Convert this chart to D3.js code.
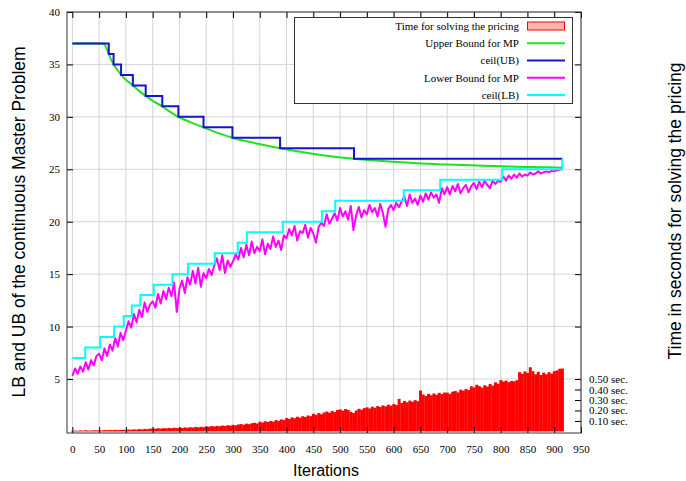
<!DOCTYPE html>
<html>
<head>
<meta charset="utf-8">
<script src="https://cdn.jsdelivr.net/npm/d3@7"></script>
<style>
  body { margin: 0; background: #fff; }
  svg { display: block; }
  .tick text { font-family: "Liberation Serif", "Times New Roman", serif; font-size: 11px; fill: #000; }
  .title { font-family: "Liberation Sans", Arial, Helvetica, sans-serif; font-size: 16px; fill: #000; }
  .title.vertical { font-size: 17.5px; }
  .legend text { font-family: "Liberation Serif", "Times New Roman", serif; font-size: 11px; fill: #000; }
</style>
</head>
<body>
<svg id="chart" width="686" height="481"></svg>
<script>
// sampled every 5th iteration
var iterations = d3.range(0, 920, 5);

// time for solving the pricing (seconds)
var timeSec = [
  0.005, 0.008, 0.006, 0.010, 0.007, 0.012, 0.008, 0.009, 0.011, 0.010,
  0.012, 0.010, 0.013, 0.011, 0.014, 0.012, 0.015, 0.013, 0.014, 0.016,
  0.015, 0.018, 0.016, 0.020, 0.017, 0.022, 0.019, 0.024, 0.021, 0.026,
  0.028, 0.025, 0.030, 0.027, 0.031, 0.029, 0.033, 0.030, 0.035, 0.032,
  0.036, 0.033, 0.038, 0.035, 0.040, 0.037, 0.042, 0.039, 0.044, 0.041,
  0.048, 0.045, 0.051, 0.047, 0.053, 0.050, 0.056, 0.052, 0.059, 0.055,
  0.063, 0.058, 0.066, 0.070, 0.064, 0.074, 0.069, 0.078, 0.082, 0.076,
  0.092, 0.085, 0.097, 0.091, 0.100, 0.094, 0.108, 0.101, 0.115, 0.109,
  0.128, 0.119, 0.134, 0.126, 0.140, 0.131, 0.145, 0.138, 0.152, 0.146,
  0.168, 0.158, 0.175, 0.164, 0.181, 0.190, 0.178, 0.196, 0.186, 0.205,
  0.210, 0.198, 0.214, 0.205, 0.185, 0.176, 0.200, 0.216, 0.207, 0.222,
  0.230, 0.219, 0.236, 0.226, 0.242, 0.233, 0.248, 0.239, 0.255, 0.246,
  0.262, 0.252, 0.310, 0.271, 0.290, 0.278, 0.294, 0.283, 0.298, 0.288,
  0.390, 0.352, 0.338, 0.359, 0.345, 0.362, 0.350, 0.368, 0.356, 0.371,
  0.370, 0.358, 0.379, 0.385, 0.372, 0.398, 0.389, 0.405, 0.394, 0.430,
  0.420, 0.445, 0.432, 0.418, 0.440, 0.428, 0.452, 0.437, 0.468, 0.455,
  0.490, 0.476, 0.485, 0.470, 0.482, 0.478, 0.488, 0.565, 0.550, 0.572,
  0.558, 0.612, 0.575, 0.545, 0.568, 0.538, 0.560, 0.545, 0.565, 0.552,
  0.575, 0.582, 0.598, 0.600
];

// lower bound for MP
var lowerBound = [
  5.3, 6.0, 5.5, 6.2, 5.7, 6.6, 5.9, 6.8, 6.3, 7.2,
  7.4, 6.8, 7.9, 7.2, 8.3, 7.7, 8.9, 8.1, 9.4, 8.7,
  9.6, 10.5, 9.9, 11.2, 10.4, 11.6, 10.9, 12.3, 11.4, 12.1,
  12.4, 11.8, 13.1, 12.2, 13.4, 12.6, 13.7, 12.9, 14.2, 11.4,
  13.6, 14.4, 13.2, 14.7, 14.0, 15.3, 14.1, 15.6, 13.8, 15.1,
  14.6, 15.5, 14.9, 15.8, 16.5, 15.4, 16.8, 15.1, 16.3, 15.7,
  16.2, 16.9, 16.4, 17.5, 16.6, 17.8, 16.8, 18.1, 17.0, 17.6,
  17.2, 18.3, 16.9, 17.9, 17.4, 18.6, 17.6, 18.2, 17.3, 18.7,
  18.4, 19.3, 18.7, 19.6, 18.2, 19.1, 18.9, 19.7, 18.5, 19.4,
  18.9, 18.0, 19.5, 19.9, 19.6, 20.7, 19.8, 20.3, 20.8, 20.1,
  21.3, 20.5, 21.0, 20.2, 21.5, 19.2, 20.6, 21.4, 20.4, 21.1,
  20.7, 21.6, 20.9, 21.3, 20.5, 21.7, 20.8, 19.5, 21.2, 21.6,
  21.1, 21.8, 21.4, 21.9, 22.4, 21.5, 22.6, 21.8, 22.2, 21.6,
  22.5, 21.9, 22.7, 22.1, 22.8, 22.3, 22.6, 21.8, 23.2, 22.6,
  23.3, 22.6, 23.4, 22.9, 23.6, 22.7, 23.2, 23.5, 22.8, 23.4,
  23.7, 23.1, 23.8, 23.3, 23.9, 23.5, 23.2, 23.9, 23.6, 23.9,
  23.8, 24.3, 23.9, 24.4, 24.1, 24.5, 24.2, 24.6, 24.3, 24.5,
  24.4, 24.7, 24.5, 24.6, 24.8, 24.6, 24.7, 24.8, 24.7, 24.85,
  24.8, 24.9, 24.95, 25.05
];

// upper bound for MP: [iteration, value]
var upperBound = [
  [0, 37], [55, 37], [60, 36.9], [64, 36.5], [68, 36], [72, 35.5], [77, 35],
  [84, 34.5], [91, 34], [101, 33.5], [113, 33], [124, 32.5], [137, 32],
  [151, 31.5], [168, 31], [182, 30.5], [198, 30], [220, 29.5], [245, 29],
  [270, 28.5], [299, 28], [340, 27.5], [388, 27], [457, 26.42], [526, 26],
  [580, 25.78], [643, 25.57], [700, 25.45], [768, 25.34], [830, 25.25],
  [892, 25.19], [915, 25.15]
];

// step changes: [iteration, level]
var ceilUB = [
  [0, 37], [68, 36], [77, 35], [91, 34], [113, 33], [137, 32], [168, 31],
  [198, 30], [245, 29], [299, 28], [388, 27], [526, 26], [915, 26]
];
var ceilLB = [
  [0, 7], [24, 8], [52, 9], [78, 10], [96, 11], [111, 12], [127, 13],
  [152, 14], [187, 15], [216, 16], [266, 17], [309, 18], [326, 19],
  [393, 20], [466, 21], [491, 22], [619, 23], [687, 24], [803, 25], [915, 26]
];

var xTicks = d3.range(0, 1000, 50);
var yTicks = [5, 10, 15, 20, 25, 30, 35, 40];
var timeTicks = [0.1, 0.2, 0.3, 0.4, 0.5];

var legendLabels = ["Time for solving the pricing", "Upper Bound for MP", "ceil(UB)", "Lower Bound for MP", "ceil(LB)"];
var legendColors = ["#ff0000", "#22e022", "#1414d2", "#ff00ff", "#00ffff"];

// plot frame (note: "top" is reserved on window, so prefix everything)
var plotLeft = 67, plotRight = 581, plotTop = 12, plotBottom = 433;

var svg = d3.select("#chart");

var x = d3.scaleLinear().domain([-10, 950]).range([plotLeft, plotRight]);
var y = d3.scaleLinear().domain([-0.15, 40]).range([plotBottom, plotTop]);
var y2 = d3.scaleLinear().domain([-0.015, 4.0]).range([plotBottom, plotTop]);

// grid
var grid = svg.append("g").attr("stroke", "#d4d4d4").attr("stroke-width", 1);
grid.selectAll("line.gx").data(xTicks).enter().append("line")
  .attr("x1", function(d) { return x(d); }).attr("x2", function(d) { return x(d); })
  .attr("y1", plotTop).attr("y2", plotBottom);
grid.selectAll("line.gy").data(yTicks).enter().append("line")
  .attr("x1", plotLeft).attr("x2", plotRight)
  .attr("y1", function(d) { return y(d); }).attr("y2", function(d) { return y(d); });

// time bars
svg.append("g").selectAll("rect").data(timeSec).enter().append("rect")
  .attr("x", function(d, i) { return x(iterations[i] - 2.5); })
  .attr("width", function(d, i) { return x(iterations[i] + 2.5) - x(iterations[i] - 2.5) + 0.3; })
  .attr("y", function(d) { return y2(d); })
  .attr("height", function(d) { return y2(0) - y2(d); })
  .attr("fill", "#ff0000");

var line = d3.line()
  .x(function(d) { return x(d[0]); })
  .y(function(d) { return y(d[1]); });

svg.append("path").datum(upperBound)
  .attr("d", line.curve(d3.curveMonotoneX))
  .attr("fill", "none").attr("stroke", legendColors[1]).attr("stroke-width", 2);

svg.append("path").datum(ceilUB)
  .attr("d", line.curve(d3.curveStepAfter))
  .attr("fill", "none").attr("stroke", legendColors[2]).attr("stroke-width", 2);

svg.append("path").datum(lowerBound.map(function(v, i) { return [iterations[i], v]; }))
  .attr("d", line.curve(d3.curveLinear))
  .attr("fill", "none").attr("stroke", legendColors[3]).attr("stroke-width", 2)
  .attr("stroke-linejoin", "round");

svg.append("path").datum(ceilLB)
  .attr("d", line.curve(d3.curveStepAfter))
  .attr("fill", "none").attr("stroke", legendColors[4]).attr("stroke-width", 2);

// axes, ticks pointing inward
var axisFmt = function(g) {
  g.select(".domain").remove();
  g.selectAll(".tick line").attr("stroke", "#000");
};

svg.append("g").attr("transform", "translate(" + plotLeft + ",0)")
  .call(d3.axisLeft(y).tickValues(yTicks).tickSize(-6).tickPadding(7))
  .call(axisFmt);

svg.append("g").attr("transform", "translate(" + plotRight + ",0)")
  .call(d3.axisRight(y).tickValues(yTicks).tickSize(-6).tickFormat(""))
  .call(axisFmt);

svg.append("g").attr("transform", "translate(" + plotRight + ",0)")
  .call(d3.axisRight(y2).tickValues(timeTicks).tickSize(-6).tickPadding(8)
    .tickFormat(function(d) { return d3.format(".2f")(d) + " sec."; }))
  .call(axisFmt);

svg.append("g").attr("transform", "translate(0," + plotBottom + ")")
  .call(d3.axisBottom(x).tickValues(xTicks).tickSize(-6).tickPadding(12).tickFormat(d3.format("d")))
  .call(axisFmt);

svg.append("g").attr("transform", "translate(0," + plotTop + ")")
  .call(d3.axisTop(x).tickValues(xTicks).tickSize(-6).tickFormat(""))
  .call(axisFmt);

// frame
svg.append("rect")
  .attr("x", plotLeft).attr("y", plotTop)
  .attr("width", plotRight - plotLeft).attr("height", plotBottom - plotTop)
  .attr("fill", "none").attr("stroke", "#333").attr("stroke-width", 1);

// legend
var legend = svg.append("g").attr("class", "legend");
legend.append("rect")
  .attr("x", 294.5).attr("y", 17.5).attr("width", 278).attr("height", 86)
  .attr("fill", "#fff").attr("stroke", "#333");

var rows = legend.selectAll("g.row").data(legendLabels).enter().append("g")
  .attr("transform", function(d, i) { return "translate(0," + (26 + i * 17.25) + ")"; });

rows.append("text")
  .attr("x", 519).attr("dy", "0.35em").attr("text-anchor", "end")
  .text(function(d) { return d; });

rows.each(function(d, i) {
  var g = d3.select(this);
  if (i === 0) {
    g.append("rect").attr("x", 527.5).attr("y", -4).attr("width", 37).attr("height", 8)
      .attr("fill", "#ffb4b4").attr("stroke", "#ff0000");
  } else {
    g.append("line").attr("x1", 527).attr("x2", 565).attr("y1", 0).attr("y2", 0)
      .attr("stroke", legendColors[i]).attr("stroke-width", 2);
  }
});

// titles
svg.append("text").attr("class", "title vertical")
  .attr("transform", "translate(25,222) rotate(-90)")
  .attr("text-anchor", "middle")
  .text("LB and UB of the continuous Master Problem");

svg.append("text").attr("class", "title vertical")
  .attr("transform", "translate(681,211) rotate(-90)")
  .attr("text-anchor", "middle")
  .text("Time in seconds for solving the pricing");

svg.append("text").attr("class", "title")
  .attr("x", 326).attr("y", 476)
  .attr("text-anchor", "middle")
  .text("Iterations");
</script>
</body>
</html>
